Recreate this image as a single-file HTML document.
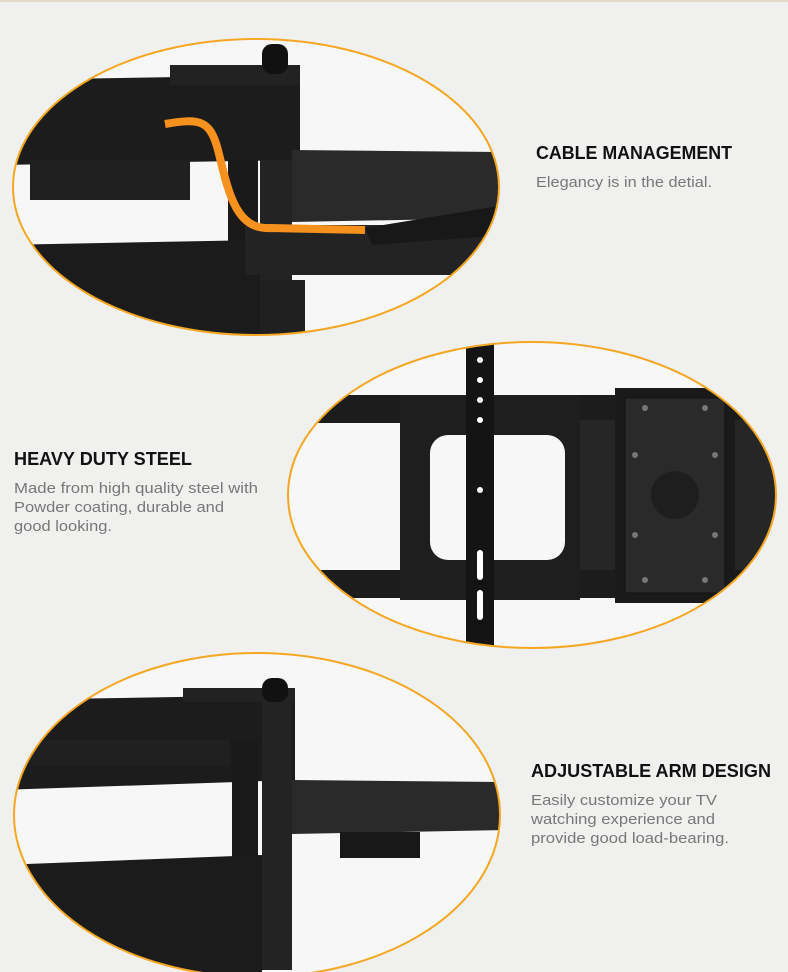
<!DOCTYPE html>
<html><head><meta charset="utf-8"><style>
html,body{margin:0;padding:0;background:#f0f0ef;}
svg{display:block}
</style></head><body>
<svg width="788" height="972" viewBox="0 0 788 972" xmlns="http://www.w3.org/2000/svg">
<defs>
<clipPath id="c1"><ellipse cx="256" cy="187" rx="243" ry="148"/></clipPath>
<clipPath id="c2"><ellipse cx="532" cy="495" rx="244" ry="153"/></clipPath>
<clipPath id="c3"><ellipse cx="257" cy="815" rx="243" ry="162"/></clipPath>
</defs>
<rect width="788" height="972" fill="#f0f0ef"/>
<rect width="788" height="2" fill="#e3d9c9"/>

<!-- Ellipse 1 -->
<ellipse cx="256" cy="187" rx="243" ry="148" fill="#f7f7f7"/>
<g clip-path="url(#c1)">
  <polygon points="0,80 300,75 300,160 0,165" fill="#1c1c1c"/>
  <rect x="170" y="65" width="130" height="20" fill="#222"/>
  <rect x="30" y="160" width="160" height="40" fill="#202020"/>
  <rect x="228" y="160" width="30" height="200" fill="#1a1a1a"/>
  <rect x="260" y="160" width="32" height="260" fill="#232323"/>
  <polygon points="0,245 260,240 260,360 0,360" fill="#1b1b1b"/>
  <rect x="260" y="280" width="45" height="80" fill="#202020"/>
  <rect x="245" y="225" width="260" height="50" fill="#232323" transform="rotate(0)"/>
  <polygon points="292,150 505,152 505,218 292,222" fill="#2a2a2a"/>
  <polygon points="365,228 505,205 505,235 372,245" fill="#181818"/>
  <path d="M165,124 C200,118 210,120 218,150 C228,190 235,230 270,228 L365,230" stroke="#f7911e" stroke-width="8" fill="none"/>
  <rect x="262" y="44" width="26" height="30" rx="10" fill="#111"/>
</g>
<ellipse cx="256" cy="187" rx="243" ry="148" fill="none" stroke="#f5a623" stroke-width="2"/>

<!-- Ellipse 2 -->
<ellipse cx="532" cy="495" rx="244" ry="153" fill="#f7f7f7"/>
<g clip-path="url(#c2)">
  <rect x="280" y="395" width="520" height="28" fill="#1c1c1c"/>
  <rect x="280" y="570" width="520" height="28" fill="#1c1c1c"/>
  <rect x="400" y="395" width="180" height="205" fill="#1e1e1e"/>
  <rect x="430" y="435" width="135" height="125" rx="18" fill="#f7f7f7"/>
  <rect x="466" y="330" width="28" height="330" fill="#141414"/>
  <circle cx="480" cy="360" r="3" fill="#fff"/><circle cx="480" cy="380" r="3" fill="#fff"/>
  <circle cx="480" cy="400" r="3" fill="#fff"/><circle cx="480" cy="420" r="3" fill="#fff"/>
  <circle cx="480" cy="490" r="3" fill="#fff"/>
  <rect x="477" y="550" width="6" height="30" rx="3" fill="#fff"/>
  <rect x="477" y="590" width="6" height="30" rx="3" fill="#fff"/>
  <rect x="580" y="420" width="200" height="150" fill="#262626"/>
  <rect x="615" y="388" width="120" height="215" fill="#1a1a1a"/>
  <rect x="625" y="398" width="100" height="195" fill="#2a2a2a" stroke="#111"/>
  <circle cx="675" cy="495" r="24" fill="#1e1e1e"/>
  <circle cx="645" cy="408" r="3" fill="#777"/><circle cx="705" cy="408" r="3" fill="#777"/>
  <circle cx="645" cy="580" r="3" fill="#777"/><circle cx="705" cy="580" r="3" fill="#777"/>
  <circle cx="635" cy="455" r="3" fill="#777"/><circle cx="715" cy="455" r="3" fill="#777"/>
  <circle cx="635" cy="535" r="3" fill="#777"/><circle cx="715" cy="535" r="3" fill="#777"/>
</g>
<ellipse cx="532" cy="495" rx="244" ry="153" fill="none" stroke="#f5a623" stroke-width="2"/>

<!-- Ellipse 3 -->
<ellipse cx="257" cy="815" rx="243" ry="162" fill="#f7f7f7"/>
<g clip-path="url(#c3)">
  <polygon points="0,700 295,695 295,780 0,790" fill="#1c1c1c"/>
  <rect x="183" y="688" width="112" height="14" fill="#222"/>
  <rect x="30" y="740" width="200" height="25" fill="#202020"/>
  <rect x="232" y="740" width="26" height="160" fill="#1a1a1a"/>
  <rect x="262" y="690" width="30" height="280" fill="#232323"/>
  <polygon points="0,865 262,855 262,980 0,980" fill="#1b1b1b"/>
  <polygon points="292,780 505,782 505,830 292,834" fill="#2a2a2a"/>
  <rect x="340" y="832" width="80" height="26" fill="#181818"/>
  <rect x="262" y="678" width="26" height="24" rx="10" fill="#111"/>
</g>
<ellipse cx="257" cy="815" rx="243" ry="162" fill="none" stroke="#f5a623" stroke-width="2"/>

<g font-family="Liberation Sans, sans-serif">
<text x="536" y="159" font-size="18" font-weight="bold" fill="#111" textLength="196" lengthAdjust="spacingAndGlyphs">CABLE MANAGEMENT</text>
<text x="536" y="187" font-size="15" fill="#777" textLength="176" lengthAdjust="spacingAndGlyphs">Elegancy is in the detial.</text>

<text x="14" y="465" font-size="18" font-weight="bold" fill="#111" textLength="178" lengthAdjust="spacingAndGlyphs">HEAVY DUTY STEEL</text>
<text x="14" y="493" font-size="15" fill="#777" textLength="244" lengthAdjust="spacingAndGlyphs">Made from high quality steel with</text>
<text x="14" y="512" font-size="15" fill="#777" textLength="210" lengthAdjust="spacingAndGlyphs">Powder coating, durable and</text>
<text x="14" y="531" font-size="15" fill="#777" textLength="98" lengthAdjust="spacingAndGlyphs">good looking.</text>

<text x="531" y="777" font-size="18" font-weight="bold" fill="#111" textLength="240" lengthAdjust="spacingAndGlyphs">ADJUSTABLE ARM DESIGN</text>
<text x="531" y="805" font-size="15" fill="#777" textLength="186" lengthAdjust="spacingAndGlyphs">Easily customize your TV</text>
<text x="531" y="824" font-size="15" fill="#777" textLength="184" lengthAdjust="spacingAndGlyphs">watching experience and</text>
<text x="531" y="843" font-size="15" fill="#777" textLength="198" lengthAdjust="spacingAndGlyphs">provide good load-bearing.</text>
</g>
</svg>
</body></html>
